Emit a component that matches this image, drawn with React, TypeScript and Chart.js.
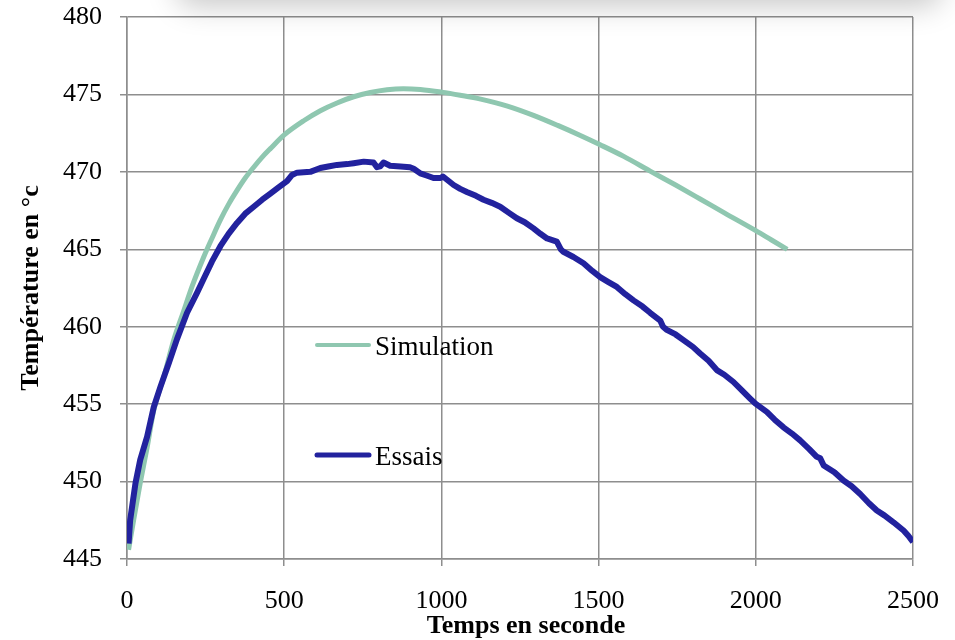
import React, { useEffect, useRef } from "react";
import { Chart, registerables } from "chart.js";

Chart.register(...registerables);

// Time (s) / temperature (°C) readings
const simTime = [5, 21, 42, 64, 85, 117, 148, 180, 207, 244, 270, 297, 323, 350, 376, 403, 430, 456, 501, 562, 615, 668, 721, 774, 827, 879, 933, 1000, 1060, 1125, 1210, 1293, 1370, 1442, 1505, 1580, 1664, 1745, 1823, 1900, 2000, 2050, 2100];
const simTemp = [445.6, 447.5, 449.9, 452.2, 454.6, 456.75, 459.1, 461.0, 462.6, 464.5, 465.7, 466.9, 467.9, 468.8, 469.6, 470.3, 470.95, 471.5, 472.4, 473.3, 473.95, 474.45, 474.85, 475.12, 475.3, 475.37, 475.32, 475.15, 474.95, 474.7, 474.25, 473.65, 473.0, 472.35, 471.75, 471.0, 470.05, 469.15, 468.25, 467.35, 466.2, 465.6, 465.0];

const essTime = [5, 10, 27, 42, 64, 85, 106, 132, 159, 191, 223, 244, 270, 297, 323, 350, 376, 403, 430, 456, 482, 509, 525, 541, 583, 615, 640, 668, 700, 721, 753, 784, 795, 805, 816, 837, 870, 900, 912, 933, 955, 975, 997, 1005, 1039, 1060, 1081, 1110, 1134, 1160, 1187, 1215, 1240, 1265, 1293, 1315, 1336, 1367, 1380, 1388, 1420, 1452, 1480, 1505, 1530, 1558, 1585, 1611, 1640, 1664, 1696, 1705, 1717, 1745, 1770, 1800, 1823, 1850, 1876, 1900, 1929, 1955, 1982, 1999, 2035, 2060, 2088, 2115, 2141, 2170, 2194, 2205, 2216, 2250, 2279, 2305, 2332, 2360, 2385, 2410, 2438, 2470, 2485, 2500];
const essTemp = [446.0, 447.5, 449.9, 451.4, 452.9, 454.8, 456.1, 457.6, 459.2, 460.9, 462.2, 463.1, 464.2, 465.2, 466.0, 466.7, 467.3, 467.75, 468.2, 468.6, 469.0, 469.4, 469.8, 469.95, 470.0, 470.25, 470.35, 470.45, 470.5, 470.56, 470.66, 470.6, 470.3, 470.35, 470.6, 470.4, 470.35, 470.3, 470.2, 469.9, 469.75, 469.6, 469.6, 469.7, 469.15, 468.9, 468.7, 468.45, 468.2, 468.0, 467.75, 467.35, 467.0, 466.75, 466.35, 466.0, 465.7, 465.5, 465.0, 464.84, 464.5, 464.1, 463.6, 463.2, 462.9, 462.57, 462.1, 461.7, 461.3, 460.9, 460.4, 460.0, 459.8, 459.5, 459.13, 458.7, 458.27, 457.8, 457.2, 456.9, 456.43, 455.9, 455.36, 455.03, 454.5, 454.0, 453.5, 453.1, 452.66, 452.1, 451.6, 451.5, 451.04, 450.6, 450.07, 449.7, 449.2, 448.6, 448.13, 447.8, 447.37, 446.84, 446.5, 446.1];

const seriesNames = ["Simulation", "Essais"];
const xTitle = "Temps en seconde";
const yTitle = "Température en °c";
const xMin = 0, xMax = 2500, xStep = 500;
const yMin = 445, yMax = 480, yStep = 5;

const SIM_COLOR = "#8fc7b0";
const ESS_COLOR = "#22229e";
const GRID = "#8e8e8e";
const SERIF = "'Liberation Serif', 'Times New Roman', serif";

const overlay = {
  id: "overlay",
  afterDraw(chart: any) {
    const ctx = chart.ctx;
    ctx.save();
    ctx.fillStyle = "#000";
    ctx.font = `bold 26px ${SERIF}`;
    ctx.textAlign = "center";
    ctx.textBaseline = "alphabetic";
    ctx.fillText(xTitle, 526, 633);
    ctx.save();
    ctx.translate(38, 288);
    ctx.rotate(-Math.PI / 2);
    ctx.fillText(yTitle, 0, 0);
    ctx.restore();
    const items = [
      { name: seriesNames[0], color: SIM_COLOR, w: 4, y: 345 },
      { name: seriesNames[1], color: ESS_COLOR, w: 5, y: 455 },
    ];
    ctx.font = `27px ${SERIF}`;
    ctx.textAlign = "left";
    items.forEach((it) => {
      ctx.strokeStyle = it.color;
      ctx.lineWidth = it.w;
      ctx.lineCap = "round";
      ctx.beginPath();
      ctx.moveTo(317, it.y);
      ctx.lineTo(369, it.y);
      ctx.stroke();
      ctx.fillStyle = "#000";
      ctx.fillText(it.name, 375, it.y + 10);
    });
    ctx.restore();
  },
};

export default function App() {
  const ref = useRef<HTMLCanvasElement>(null);
  useEffect(() => {
    if (!ref.current) return;
    const chart = new Chart(ref.current, {
      type: "line",
      data: {
        datasets: [
          {
            label: seriesNames[0],
            data: simTime.map((t, i) => ({ x: t, y: simTemp[i] })),
            borderColor: SIM_COLOR,
            borderWidth: 5,
            pointRadius: 0,
            cubicInterpolationMode: "monotone",
            order: 1,
          },
          {
            label: seriesNames[1],
            data: essTime.map((t, i) => ({ x: t, y: essTemp[i] })),
            borderColor: ESS_COLOR,
            borderWidth: 6,
            pointRadius: 0,
            tension: 0,
            borderJoinStyle: "round",
            order: 0,
          },
        ],
      },
      options: {
        animation: false,
        responsive: false,
        devicePixelRatio: 1,
        layout: { padding: { left: 0, top: 17, right: 42, bottom: 0 } },
        plugins: { legend: { display: false }, tooltip: { enabled: false } },
        scales: {
          x: {
            type: "linear",
            min: xMin,
            max: xMax,
            ticks: {
              stepSize: xStep,
              color: "#000",
              font: { family: SERIF, size: 26 },
              padding: 20,
              maxRotation: 0,
              callback: (v: any) => String(v),
            },
            grid: { color: GRID, lineWidth: 1.5, tickLength: 7 },
            border: { color: GRID, width: 1.5 },
            afterFit: (s: any) => { s.height = 81; s.paddingLeft = 0; s.paddingRight = 0; },
          },
          y: {
            min: yMin,
            max: yMax,
            ticks: {
              stepSize: yStep,
              color: "#000",
              font: { family: SERIF, size: 26 },
              padding: 18,
              callback: (v: any) => String(v),
            },
            grid: { color: GRID, lineWidth: 1.5, tickLength: 7 },
            border: { color: GRID, width: 1.5 },
            afterFit: (s: any) => { s.width = 127; s.paddingTop = 0; s.paddingBottom = 0; },
          },
        },
      },
      plugins: [overlay],
    });
    return () => chart.destroy();
  }, []);
  return (
    <div style={{ position: "absolute", left: 0, top: 0, width: 955, height: 640, overflow: "hidden", background: "#fff" }}>
      <canvas ref={ref} width={955} height={640} style={{ position: "absolute", left: 0, top: 0 }} />
      <div
        style={{
          position: "absolute",
          top: -40,
          left: 180,
          width: 758,
          height: 40,
          borderRadius: 14,
          background: "#fff",
          boxShadow: "0 2px 30px 4px rgba(0,0,0,0.22)",
        }}
      />
    </div>
  );
}
